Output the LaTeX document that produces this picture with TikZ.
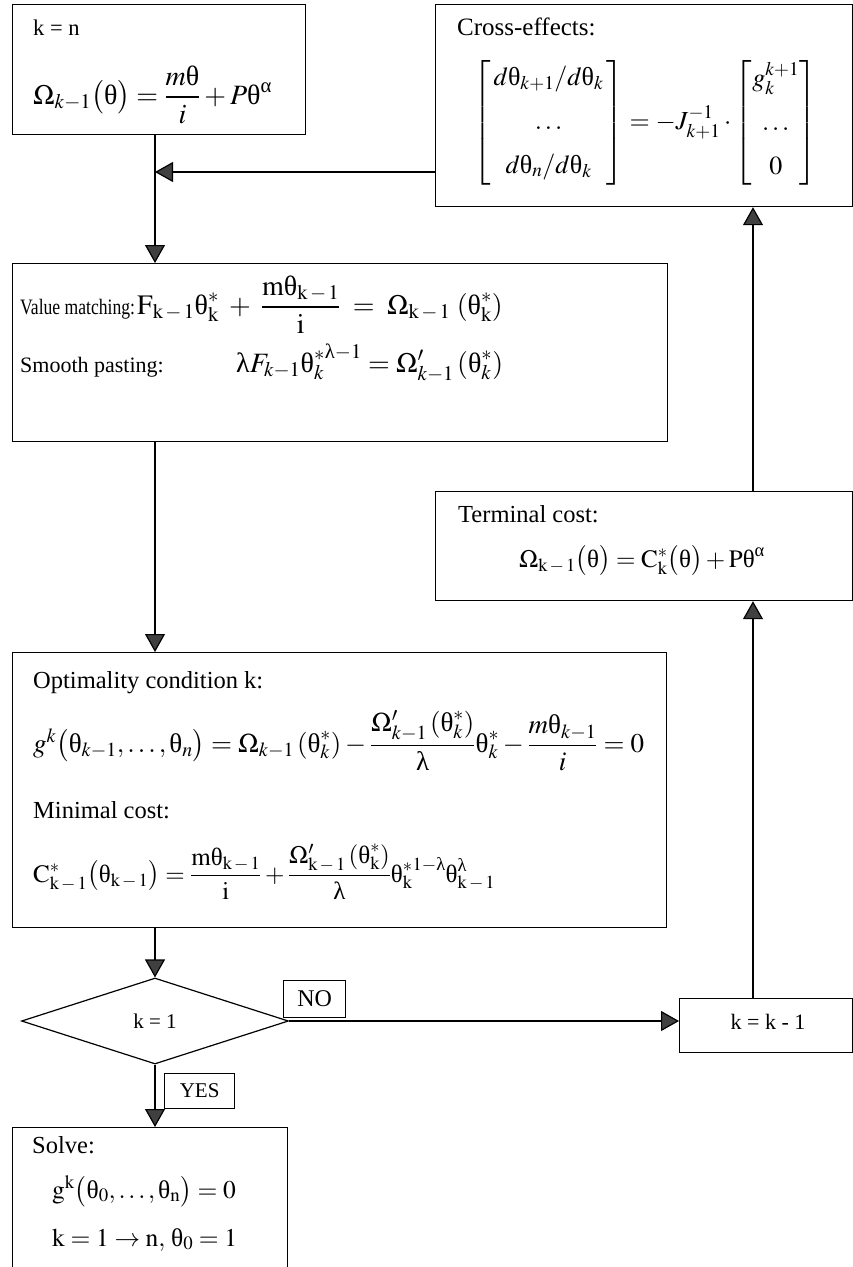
\documentclass[tikz,border=0pt]{standalone}
\usepackage{amsmath}
\usepackage{mathptmx}
\usepackage{fontspec}
\setmainfont{Liberation Serif}
\newfontfamily\condensedfont{Liberation Serif}[FakeStretch=0.8]
\usetikzlibrary{arrows.meta,shapes.geometric}
\newcommand\tht{\text{θ}}
\newcommand\lmb{\text{λ}}
\newcommand\alp{\text{α}}
\newcommand\rk{\mathrm{k}}
\newcommand\rkm{\mathrm{k}\mskip2mu{-}\mskip2mu1}
\begin{document}
\begin{tikzpicture}[x=1pt,y=-1pt,
  box/.style={draw, line width=1.2pt, inner sep=0pt, anchor=north west},
  lab/.style={anchor=base west, inner sep=0pt, font=\fontsize{24.5}{28}\selectfont},
  eq/.style={inner sep=0pt, font=\fontsize{25}{30}\selectfont},
  tag/.style={draw, line width=1.2pt, inner sep=0pt},
  arr/.style={line width=1.2pt, -{Triangle[length=18pt,width=20pt,fill=black!75]}}]
\useasboundingbox (0,0) rectangle (853,1267);
\fill[white] (0,0) rectangle (853,1267);
% guide coordinates for connector lines
\coordinate (cL) at (155,0);
\coordinate (cR) at (753,0);
\coordinate (cY) at (0,172);

% k = n box
\node[box, minimum width=293pt, minimum height=130pt] (init) at (12,4) {};
\node[lab, font=\fontsize{22.5}{26}\selectfont] (initk) at (33,35) {k = n};
\node[eq, anchor=base west, font=\fontsize{28}{32}\selectfont] (initeq) at (33,104) {$\Omega_{k-1}\bigl(\tht\bigr)=\dfrac{m\tht}{i}+P\tht^{\alp}$};

% cross-effects box
\node[box, minimum width=417pt, minimum height=202pt] (cross) at (435,4) {};
\node[lab, font=\fontsize{25}{30}\selectfont] (crossl) at (457,35) {Cross-effects:};
\node[eq, font=\fontsize{26}{30}\selectfont] (crosseq) at (645,123) {$\begin{bmatrix}\, d\tht_{k+1}/d\tht_k\,\\[14pt] \dots\\[14pt] d\tht_n/d\tht_k\end{bmatrix}=-J_{k+1}^{-1}\cdot\begin{bmatrix} g_k^{k+1}\\[14pt] \dots\\[14pt] 0\end{bmatrix}$};

% value matching box
\node[box, minimum width=655pt, minimum height=178pt] (val) at (12,263) {};
\node[lab, font=\condensedfont\fontsize{22}{26}\selectfont] (vml) at (20,314) {Value matching:};
\node[eq, anchor=base west, font=\fontsize{28}{32}\selectfont] (vmeq) at (137,314) {$\mathrm{F}_{\rkm}\tht^{*}_{\rk}\;+\;\dfrac{\mathrm{m}\tht_{\rkm}}{\mathrm{i}}\;=\;\Omega_{\rkm}\,\left(\tht^{*}_{\rk}\right)$};
\node[lab, font=\fontsize{22}{26}\selectfont] (spl) at (20,372) {Smooth pasting:};
\node[eq, anchor=base west, font=\fontsize{28}{32}\selectfont] (speq) at (236,372) {$\lmb F_{k-1}{\tht^{*}_{k}}^{\lmb-1}=\Omega'_{k-1}\left(\tht^{*}_{k}\right)$};

% terminal cost box
\node[box, minimum width=417pt, minimum height=109pt] (term) at (435,491) {};
\node[lab] (terml) at (458,522) {Terminal cost:};
\node[eq, anchor=base] (termeq) at (642,567) {$\Omega_{\rkm}\bigl(\tht\bigr)=\mathrm{C}^{*}_{\rk}\bigl(\tht\bigr)+\mathrm{P}\tht^{\alp}$};

% optimality box
\node[box, minimum width=654pt, minimum height=275pt] (opt) at (12,652) {};
\node[lab] (optl) at (33,688) {Optimality condition k:};
\node[eq, anchor=base west, font=\fontsize{27}{31}\selectfont] (opteq) at (33,752) {$g^{k}\bigl(\tht_{k-1},\dots,\tht_{n}\bigr)=\Omega_{k-1}\left(\tht^{*}_{k}\right)-\dfrac{\Omega'_{k-1}\left(\tht^{*}_{k}\right)}{\lmb}\tht^{*}_{k}-\dfrac{m\tht_{k-1}}{i}=0$};
\node[lab] (minl) at (33,818) {Minimal cost:};
\node[eq, anchor=base west] (mineq) at (33,882) {$\mathrm{C}^{*}_{\rkm}\bigl(\tht_{\rkm}\bigr)=\dfrac{\mathrm{m}\tht_{\rkm}}{\mathrm{i}}+\dfrac{\Omega'_{\rkm}\left(\tht^{*}_{\rk}\right)}{\lmb}{\tht^{*}_{\rk}}^{1-\lmb}\tht^{\lmb}_{\rkm}$};

% decision
\node[diamond, draw, line width=1.2pt, minimum width=267pt, minimum height=86pt, inner sep=0pt, font=\fontsize{21}{25}\selectfont] (dec) at (155,1021) {k = 1};
\node[tag, minimum width=62pt, minimum height=37pt, anchor=south west, font=\fontsize{24}{28}\selectfont] (no) at (283,1018) {NO};
\node[tag, minimum width=70pt, minimum height=35pt, anchor=north west, font=\fontsize{21}{25}\selectfont] (yes) at (164,1073) {YES};

% k = k - 1 box
\node[box, minimum width=173pt, minimum height=54pt] (dec2) at (679,998) {};
\node[anchor=center, inner sep=0pt, font=\fontsize{22}{26}\selectfont] (dec2t) at (768,1022) {k = k - 1};

% solve box
\node[box, minimum width=275pt, minimum height=170pt] (solve) at (12,1127) {};
\node[lab] (solvel) at (32,1153) {Solve:};
\node[eq, anchor=base west, font=\fontsize{25.5}{30}\selectfont] (solve1) at (52,1198) {$\mathrm{g}^{\rk}\bigl(\tht_{0},\dots,\tht_{\mathrm{n}}\bigr)=0$};
\node[eq, anchor=base west, font=\fontsize{25.5}{30}\selectfont] (solve2) at (52,1246) {$\mathrm{k}=1\rightarrow\mathrm{n},\,\tht_{0}=1$};

% connectors
\draw[arr] (init.south -| cL) -- (val.north -| cL);
\draw[arr] (cross.west |- cY) -- (cL |- cY);
\draw[arr] (val.south -| cL) -- (opt.north -| cL);
\draw[arr] (opt.south -| cL) -- (dec.north);
\draw[arr] (dec.south) -- (solve.north -| dec.south);
\draw[arr] (dec.east) -- (dec2.west |- dec.east);
\draw[arr] (dec2.north -| cR) -- (term.south -| cR);
\draw[arr] (term.north -| cR) -- (cross.south -| cR);
\end{tikzpicture}
\end{document}
